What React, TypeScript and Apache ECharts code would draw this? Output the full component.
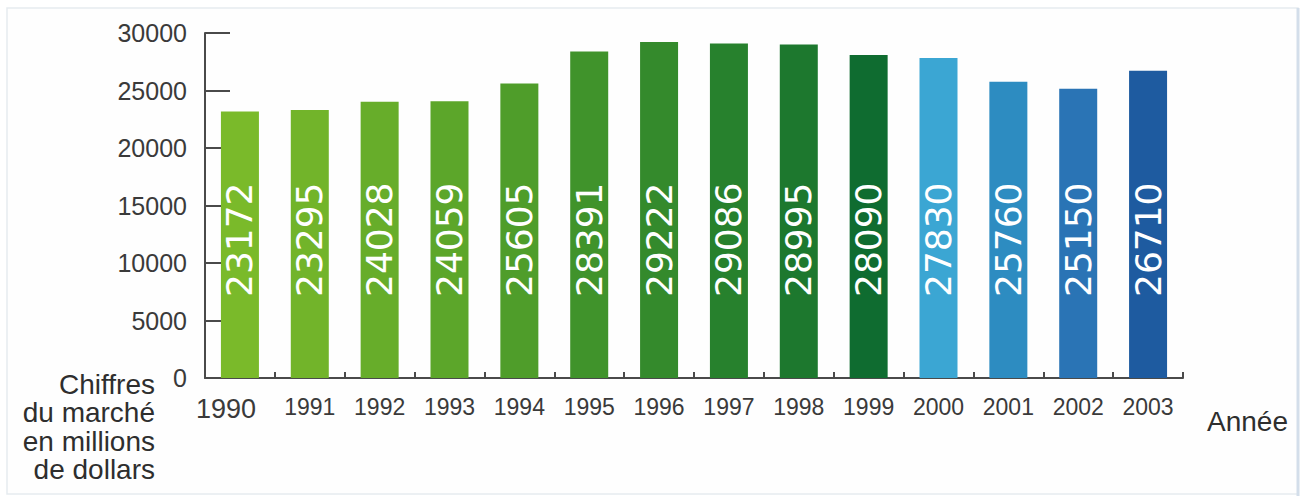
import React, { useEffect, useRef } from "react";
import * as echarts from "echarts";

const years = ["1990", "1991", "1992", "1993", "1994", "1995", "1996", "1997", "1998", "1999", "2000", "2001", "2002", "2003"];
const values = [23172, 23295, 24028, 24059, 25605, 28391, 29222, 29086, 28995, 28090, 27830, 25760, 25150, 26710];
const barColors = [
  "#7aba2a", "#72b42a", "#67ad2a", "#5ca62a", "#4f9d2a", "#40932b",
  "#348a2c", "#27812d", "#1d782e", "#0f6c30",
  "#3ba6d3", "#2d8cc1", "#2a74b5", "#1e5ba0",
];
const yMin = 0;
const yMax = 30000;
const yStep = 5000;
const yAxisTitle = ["Chiffres", "du marché", "en millions", "de dollars"];
const xAxisTitle = "Année";

const SANS = "'Liberation Sans', Arial, Helvetica, sans-serif";

export default function App() {
  const ref = useRef<HTMLDivElement>(null);
  useEffect(() => {
    if (!ref.current) return;
    const chart = echarts.init(ref.current, undefined, { renderer: "svg" });
    chart.setOption({
      animation: false,
      backgroundColor: "#ffffff",
      grid: { left: 205, right: 127, top: 33, bottom: 118, containLabel: false },
      xAxis: {
        type: "category",
        data: years,
        boundaryGap: true,
        axisLine: { show: true, lineStyle: { color: "#4a4a4a", width: 2 } },
        axisTick: { show: true, inside: true, length: 6, alignWithLabel: false, lineStyle: { color: "#4a4a4a", width: 2 } },
        axisLabel: {
          color: "#3a3a3a",
          fontFamily: SANS,
          fontSize: 23,
          margin: 17,
          interval: 0,
          formatter: (v: string, i: number) => (i === 0 ? `{big|${v}}` : v),
          rich: {
            big: { fontFamily: SANS, fontSize: 27, color: "#3a3a3a", padding: [0, 28, 0, 0] },
          },
        },
        splitLine: { show: false },
      },
      yAxis: {
        type: "value",
        min: yMin,
        max: yMax,
        interval: yStep,
        axisLine: { show: true, lineStyle: { color: "#4a4a4a", width: 2 } },
        axisTick: { show: true, inside: true, length: 25, lineStyle: { color: "#4a4a4a", width: 2 } },
        axisLabel: {
          color: "#3a3a3a",
          fontFamily: SANS,
          fontSize: 25,
          margin: 18,
          formatter: (v: number) => String(v),
        },
        splitLine: { show: false },
      },
      series: [
        {
          type: "bar",
          barWidth: 38,
          data: values.map((v, i) => ({ value: v, itemStyle: { color: barColors[i] } })),
          label: {
            show: true,
            position: "insideBottom",
            distance: 81,
            rotate: 90,
            align: "left",
            verticalAlign: "middle",
            color: "#ffffff",
            fontFamily: "'DejaVu Sans', Verdana, sans-serif",
            fontSize: 36,
          },
        },
      ],
      graphic: [
        {
          type: "rect",
          z: -10,
          silent: true,
          shape: { x: 7, y: 8, width: 1291, height: 486 },
          style: { fill: "#fefefe", stroke: "#e6ebf0", lineWidth: 1.5 },
        },
        {
          type: "line",
          z: -5,
          silent: true,
          shape: { x1: 1298, y1: 8, x2: 1298, y2: 496 },
          style: { stroke: "#d3deea", lineWidth: 3 },
        },
        {
          type: "text",
          x: 155,
          y: 370,
          style: {
            text: yAxisTitle.join("\n"),
            fill: "#2e2e2e",
            fontFamily: SANS,
            fontSize: 28,
            lineHeight: 28.5,
            align: "right",
            verticalAlign: "top",
          },
        },
        {
          type: "text",
          x: 1207,
          y: 421,
          style: {
            text: xAxisTitle,
            fill: "#2e2e2e",
            fontFamily: SANS,
            fontSize: 28,
            align: "left",
            verticalAlign: "middle",
          },
        },
      ],
    });
    return () => chart.dispose();
  }, []);
  return (
    <div
      ref={ref}
      style={{ position: "fixed", left: 0, top: 0, width: 1310, height: 496 }}
    />
  );
}
